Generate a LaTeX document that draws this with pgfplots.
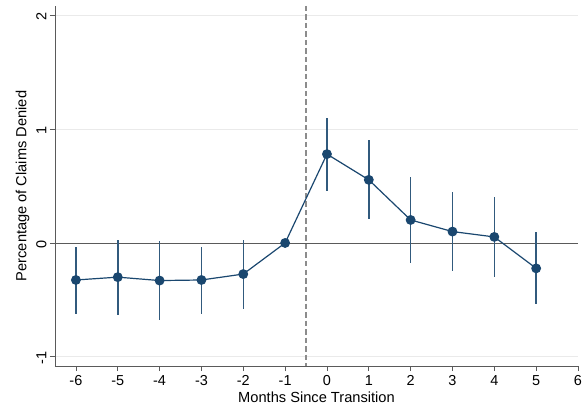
\documentclass[border=0pt]{standalone}
\usepackage{fontspec}
\setmainfont{Liberation Sans}
\usepackage{pgfplots}
\pgfplotsset{compat=1.18}
\definecolor{stnavy}{HTML}{1A476F}
\definecolor{axgray}{HTML}{5A5A5A}
\definecolor{gridgray}{HTML}{EAEAEA}
\definecolor{dashgray}{HTML}{8C8C8C}
\begin{document}
\begin{tikzpicture}
\begin{axis}[
  scale only axis,
  width=523bp, height=360bp,
  xmin=-6.5, xmax=6, ymin=-1.08, ymax=2.08,
  axis x line*=bottom, axis y line*=left,
  axis line style={axgray, line width=0.9bp},
  xtick={-6,-5,-4,-3,-2,-1,0,1,2,3,4,5,6},
  xticklabels={{-6},{-5},{-4},{-3},{-2},{-1},{0},{1},{2},{3},{4},{5},{6}},
  ytick={-1,0,1,2},
  yticklabels={{-1},{0},{1},{2}},
  tick align=outside, major tick length=5bp,
  tick style={axgray, line width=0.8bp},
  ticklabel style={font=\fontsize{14.5}{17}\selectfont},
  yticklabel style={rotate=90, anchor=south, xshift=-1.5bp},
  xticklabel style={yshift=-1bp},
  label style={font=\fontsize{14.7}{17}\selectfont},
  xlabel={Months Since Transition},
  ylabel={Percentage of Claims Denied},
  xlabel style={yshift=1bp},
  ymajorgrids, grid style={gridgray, line width=0.8bp},
  clip=false,
]
\addplot[axgray, line width=0.9bp, forget plot] coordinates {(-6.5,0) (6,0)};
\addplot[dashgray, line width=1.4bp, forget plot, dash pattern=on 5.5bp off 3bp] coordinates {(-0.5,2.08) (-0.5,-1.08)};
\addplot[stnavy, line width=1.2bp, mark=*, mark size=4.3bp,
  error bars/.cd, y dir=both, y explicit, error mark=none,
  error bar style={line width=1.5bp, stnavy!90}]
  table[x=x, y=y, y error plus=ep, y error minus=em] {
x y ep em
-6 -0.325 0.287 0.295
-5 -0.300 0.326 0.336
-4 -0.330 0.348 0.347
-3 -0.325 0.293 0.302
-2 -0.273 0.296 0.305
-1 0.000 0 0
0 0.780 0.317 0.320
1 0.554 0.349 0.346
2 0.202 0.376 0.375
3 0.100 0.351 0.343
4 0.053 0.349 0.353
5 -0.223 0.317 0.314
};
\end{axis}
\pgfresetboundingbox
\useasboundingbox ([shift={(-55bp,-45bp)}]current axis.south west) rectangle ([shift={(5bp,6bp)}]current axis.north east);
\end{tikzpicture}
\end{document}
